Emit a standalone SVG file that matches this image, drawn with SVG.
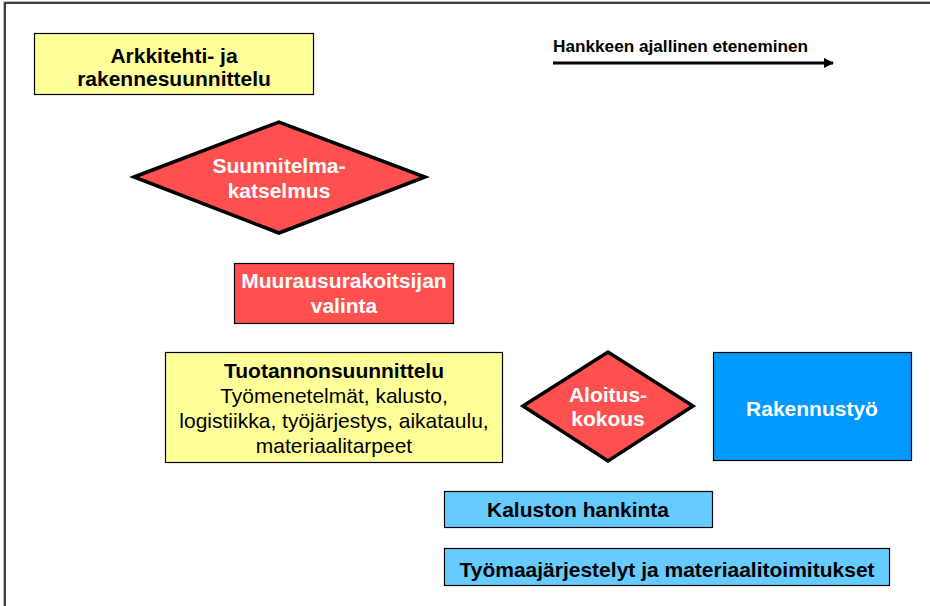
<svg xmlns="http://www.w3.org/2000/svg" width="930" height="606" viewBox="0 0 930 606">
<style>
  text{font-family:"Liberation Sans",Arial,sans-serif;font-size:21px;text-anchor:middle}
  .b{font-weight:bold}
  .w{fill:#ffffff}
  .k{fill:#000000}
  .box{stroke:#000;stroke-width:1.2}
  .dia{stroke:#000;stroke-width:3.5;stroke-linejoin:miter}
  .yel{fill:#FFFF99}
  .red{fill:#FF5050}
  .blue{fill:#0099FF}
  .lblue{fill:#66CCFF}
</style>
<defs>
  <marker id="ah" markerWidth="10" markerHeight="10" refX="9" refY="5" orient="auto" markerUnits="userSpaceOnUse">
    <path d="M0,0 L10,5 L0,10 Z" fill="#000"/>
  </marker>
</defs>
<rect x="0" y="0" width="930" height="606" fill="#fff"/>
<path d="M5,606 V3 H930" fill="none" stroke="#000" stroke-width="1.5"/>
<path d="M3.5,606 V1.5 H930" fill="none" stroke="#bbb" stroke-width="1"/>

<g id="n-arkkitehti">
  <rect class="box yel" x="34.5" y="33.5" width="279" height="61"/>
  <text class="b k" x="174" y="63">Arkkitehti- ja</text>
  <text class="b k" x="174" y="86">rakennesuunnittelu</text>
</g>

<g id="n-title">
  <text class="b k" x="553" y="52" style="font-size:16px;text-anchor:start" textLength="255" lengthAdjust="spacingAndGlyphs">Hankkeen ajallinen eteneminen</text>
</g>

<g id="n-suunnitelmakatselmus">
  <polygon class="dia red" points="134,177 279,122 425,177 279,233"/>
  <text class="b w" x="279" y="173">Suunnitelma-</text>
  <text class="b w" x="279" y="198">katselmus</text>
</g>

<g id="n-muuraus">
  <rect class="box red" x="234.5" y="263.5" width="219" height="60"/>
  <text class="b w" x="344" y="288">Muurausurakoitsijan</text>
  <text class="b w" x="344" y="313">valinta</text>
</g>

<g id="n-tuotanto">
  <rect class="box yel" x="165.5" y="352.5" width="337" height="110"/>
  <text class="b k" x="334" y="378">Tuotannonsuunnittelu</text>
  <text class="k" x="334" y="403">Työmenetelmät, kalusto,</text>
  <text class="k" x="334" y="428">logistiikka, työjärjestys, aikataulu,</text>
  <text class="k" x="334" y="453">materiaalitarpeet</text>
</g>

<g id="n-aloitus">
  <polygon class="dia red" points="523,406 608,352 693,406 608,461"/>
  <text class="b w" x="608" y="402">Aloitus-</text>
  <text class="b w" x="608" y="426">kokous</text>
</g>

<g id="n-rakennustyo">
  <rect class="box blue" x="713.5" y="352.5" width="198" height="108"/>
  <text class="b w" x="812" y="416">Rakennustyö</text>
</g>

<g id="n-kalusto">
  <rect class="box lblue" x="444.5" y="491.5" width="268" height="36"/>
  <text class="b k" x="578" y="517">Kaluston hankinta</text>
</g>

<g id="n-tyomaa">
  <rect class="box lblue" x="444.5" y="548.5" width="445" height="37"/>
  <text class="b k" x="667" y="577">Työmaajärjestelyt ja materiaalitoimitukset</text>
</g>

<g id="connectors">
  <line x1="553" y1="63" x2="833" y2="63" stroke="#000" stroke-width="3" marker-end="url(#ah)"/>
</g>
</svg>
